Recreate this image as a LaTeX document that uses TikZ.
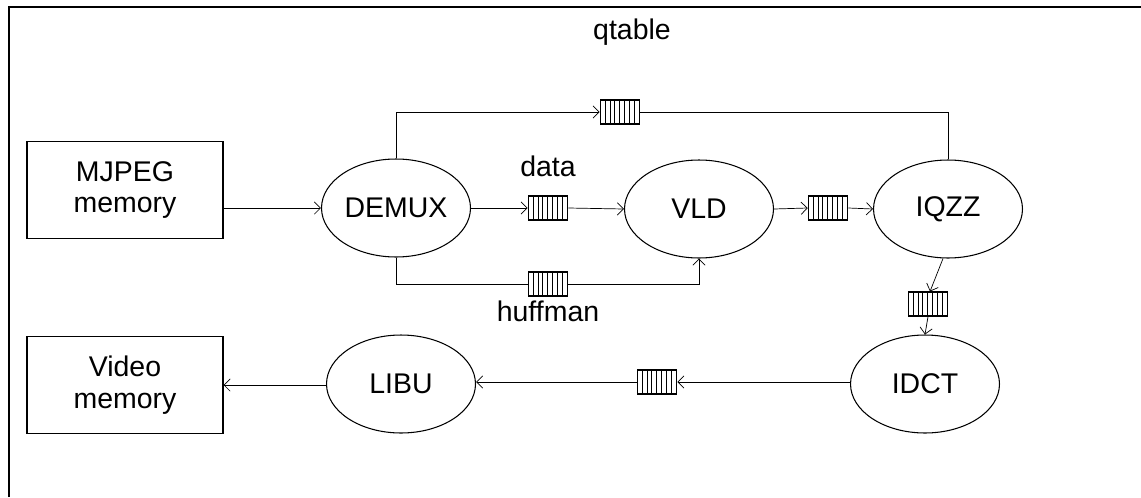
\documentclass[tikz,border=0pt]{standalone}
\usepackage{fontspec}
\setmainfont{Liberation Sans}
\usepackage{tikz}
\usetikzlibrary{arrows.meta,shapes.geometric}

\begin{document}
\begin{tikzpicture}[x=0.02cm,y=-0.02cm,thin,
                    >={Straight Barb[length=3.5pt,width=7pt]},
                    font=\fontsize{16.2}{18}\selectfont,
                    actor/.style={draw,ellipse,semithick,inner sep=0pt,
                                  minimum width=2.98cm,minimum height=1.96cm},
                    mem/.style={draw,rectangle,semithick,align=center,
                                minimum width=3.92cm,minimum height=1.94cm},
                    fifo/.style={draw,rectangle,semithick,inner sep=0pt,
                                 minimum width=0.79cm,minimum height=0.48cm,
                                 path picture={\foreach \k in {1,...,7}
                                   \draw[thin] ([xshift=\k*0.097cm]path picture bounding box.south west)
                                     -- ([xshift=\k*0.097cm]path picture bounding box.north west);}}]
      \useasboundingbox (0,0) rectangle (1141,497);
      \draw[line width=1.6pt] (9,497) -- (9,7) -- (1141,7);

      \node[mem]  (mjpeg) at (125,190) {MJPEG\\memory};
      \node[mem]  (video) at (125,385) {Video\\memory};
      \node[actor](demux) at (396,208) {DEMUX};
      \node[actor](vld)   at (699,209) {VLD};
      \node[actor](iqzz)  at (948,209) {IQZZ};
      \node[actor](idct)  at (925,384) {IDCT};
      \node[actor](libu)  at (401,384) {LIBU};

      \node[fifo] (qdata) at (548,208) {};
      \node[fifo] (qhuff) at (548,284) {};
      \node[fifo] (qtab)  at (620,112) {};
      \node[fifo] (qvld)  at (828,208) {};
      \node[fifo] (qiqzz) at (928,304) {};
      \node[fifo] (qidct) at (657,382) {};

      \node (ldata) at (548,166) {data};
      \node (lhuff) at (548,311) {huffman};
      \node (ltab)  at (632,32)  {qtable};

      \path (mjpeg.east |- demux)      edge[->] (demux.west)
            (demux.east)               edge[->] (qdata.west)
            (qdata.east)               edge[->] (vld.west)
            (vld.east)                 edge[->] (qvld.west)
            (qvld.east)                edge[->] (iqzz.west)
            ([xshift=-0.1cm]iqzz.south) edge[->] ([xshift=0.04cm]qiqzz.north)
            (qiqzz.south)              edge[->] (idct.north)
            (idct.west |- qidct)       edge[->] (qidct.east)
            (qidct.west)               edge[->] (libu.east |- qidct)
            (libu.west |- video)       edge[->] (video.east);
      \draw[->] (demux.north) |- (qtab.west);
      \draw     (qtab.east) -| (iqzz.north);
      \draw     (demux.south) |- (qhuff.west);
      \draw[->] (qhuff.east) -| (vld.south);
\end{tikzpicture}
\end{document}
